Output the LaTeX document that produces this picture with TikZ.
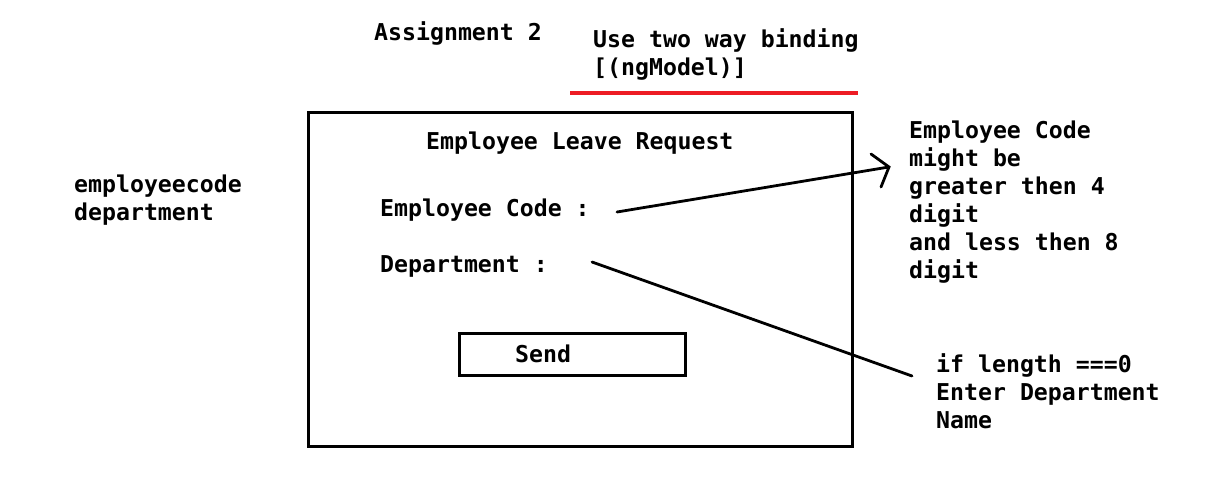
\documentclass[tikz,border=0pt]{standalone}
\usepackage{fontspec}
\setmainfont{DejaVu Sans Mono}
\definecolor{redline}{RGB}{237,28,36}
\begin{document}
\begin{tikzpicture}[x=1pt,y=-1pt,
  txt/.style={font=\fontsize{23.2}{28}\selectfont\bfseries, inner sep=0pt, anchor=base west, align=left},
  frame/.style={draw=black, line width=3pt, inner sep=0pt, outer sep=0pt, anchor=north west},
  conn/.style={draw=black, line width=2.8pt, line cap=round}]
\useasboundingbox[fill=white] (0,0) rectangle (1223,497);
% title texts (multi-line nodes: base = baseline of last line)
\node[txt] (title) at (374,41) {Assignment 2};
\node[txt] (hint) at (593,76) {Use two way binding\\{}[(ngModel)]};
\coordinate (ul1) at (570,93);
\coordinate (ul2) at (858,93);
\draw[draw=redline, line width=3.2pt] (ul1) -- (ul2);
% form
\node[frame, minimum width=544pt, minimum height=334pt] (form) at (308.5,112.5) {};
\node[txt] (head) at (426,150) {Employee Leave Request};
\node[txt] (code) at (380,217) {Employee Code :};
\node[txt] (dept) at (380,272) {Department :};
\node[frame, minimum width=226pt, minimum height=42pt] (send) at (459.5,333.5) {};
\node[txt] (sendlbl) at (515,362) {Send};
% left note
\node[txt] (fields) at (74,220) {employeecode\\department};
% right notes
\node[txt] (note1) at (909,278) {Employee Code\\might be\\greater then 4\\digit\\and less then 8\\digit};
\node[txt] (note2) at (936,428) {if length ===0\\Enter Department\\Name};
% connectors
\coordinate (c1s) at (617,212);
\coordinate (c1e) at (889,167);
\coordinate (b1) at (871,154);
\coordinate (b2) at (881,187);
\draw[conn] (c1s) -- (c1e);
\draw[conn] (b1) -- (c1e) -- (b2);
\coordinate (c2s) at (592,262);
\coordinate (c2e) at (912,376);
\draw[conn] (c2s) -- (c2e);
\end{tikzpicture}
\end{document}
